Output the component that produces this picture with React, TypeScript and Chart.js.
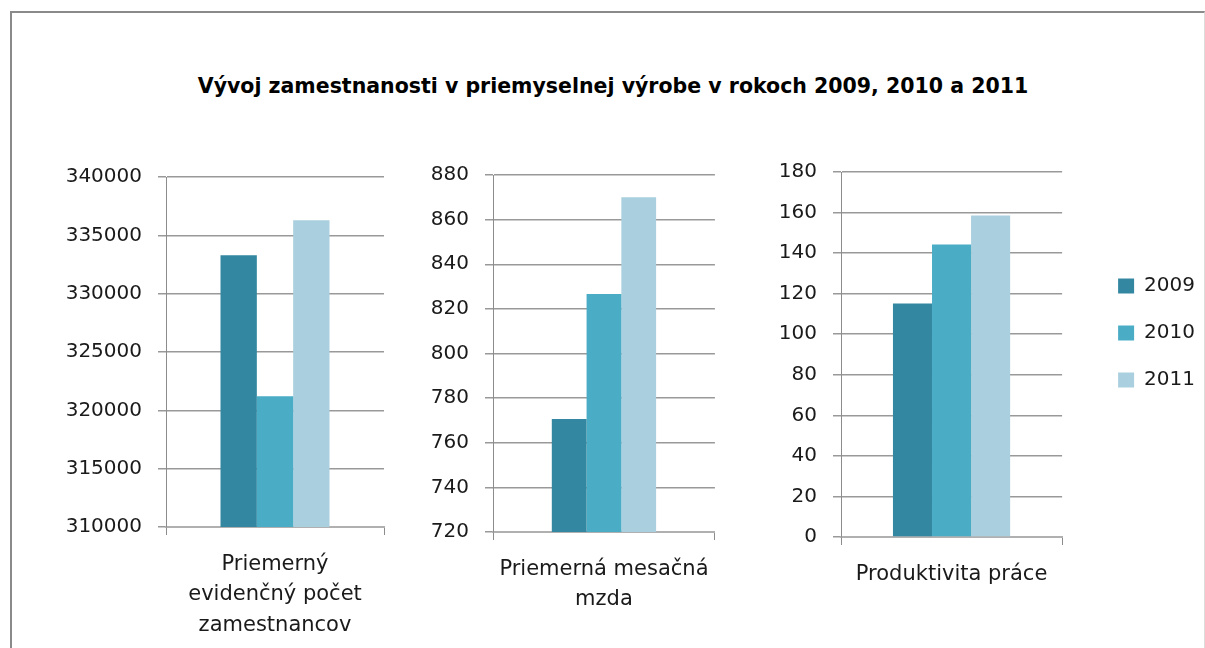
import React, { useEffect, useRef } from 'react';
import { Chart, registerables } from 'chart.js';

Chart.register(...registerables);

// ---------- data ----------
const TITLE = 'Vývoj zamestnanosti v priemyselnej výrobe v rokoch 2009, 2010 a 2011';
const SERIES = ['2009', '2010', '2011'];
const SERIES_COLORS = ['#3387A0', '#4BACC6', '#AACFDE'];

const CAT_EMPLOYEES = ['Priemerný', 'evidenčný počet', 'zamestnancov'];
const VALUES_EMPLOYEES = [333300, 321200, 336300];
const AXIS_EMPLOYEES = { min: 310000, max: 340000, step: 5000 };

const CAT_WAGE = ['Priemerná mesačná', 'mzda'];
const VALUES_WAGE = [770.6, 826.7, 870.0];
const AXIS_WAGE = { min: 720, max: 880, step: 20 };

const CAT_PRODUCTIVITY = ['Produktivita práce'];
const VALUES_PRODUCTIVITY = [115.2, 144.3, 158.6];
const AXIS_PRODUCTIVITY = { min: 0, max: 180, step: 20 };

// ---------- layout / style ----------
const FONT = '"DejaVu Sans", sans-serif';
const TEXT = '#1a1a1a';
const CANVAS_TOP = 140;
const CANVAS_H = 500;

type Area = { left: number; right: number; top: number; bottom: number };
type PanelProps = {
  cat: string[];
  values: number[];
  axis: { min: number; max: number; step: number };
  boxLeft: number;
  boxWidth: number;
  area: Area;
  catPct: number;
  legend?: boolean;
};

function Panel({ cat, values, axis, boxLeft, boxWidth, area, catPct, legend }: PanelProps) {
  const ref = useRef<HTMLCanvasElement | null>(null);
  useEffect(() => {
    if (!ref.current) return;
    const scales: any = {
      x: {
        offset: true,
        grid: {
          display: true,
          drawOnChartArea: false,
          drawTicks: true,
          tickLength: 8,
          color: '#8c8c8c',
          lineWidth: 1,
          offset: true,
        },
        border: { display: true, color: '#b0b0b0', width: 2 },
        ticks: {
          font: { family: FONT, size: 21, lineHeight: 1.45 },
          color: TEXT,
          padding: 14,
          maxRotation: 0,
          minRotation: 0,
          autoSkip: false,
        },
        afterFit: (s: any) => {
          s.height = CANVAS_TOP + CANVAS_H - area.bottom;
        },
      },
      y: {
        min: axis.min,
        max: axis.max,
        ticks: {
          stepSize: axis.step,
          font: { family: FONT, size: 20 },
          color: TEXT,
          padding: 16,
          callback: (v: any) => String(v),
        },
        grid: { color: '#999999', lineWidth: 1.5, tickLength: 8 },
        border: { display: true, color: '#8c8c8c', width: 1 },
        afterFit: (s: any) => {
          s.width = area.left - boxLeft;
        },
      },
    };
    if (legend) {
      scales.spacer = {
        type: 'linear',
        position: 'right',
        display: true,
        grid: { display: false },
        border: { display: false },
        ticks: { display: false },
        afterFit: (s: any) => {
          s.width = 29;
        },
      };
    }
    const chart = new Chart(ref.current, {
      type: 'bar',
      data: {
        labels: [cat],
        datasets: SERIES.map((s, i) => ({
          label: s,
          data: [values[i]],
          backgroundColor: SERIES_COLORS[i],
          borderWidth: 0,
          barPercentage: 1,
          categoryPercentage: catPct,
        })),
      },
      options: {
        responsive: false,
        animation: false,
        layout: {
          padding: {
            left: 0,
            right: legend ? 0 : boxLeft + boxWidth - area.right,
            top: area.top - CANVAS_TOP,
            bottom: 0,
          },
        },
        plugins: {
          tooltip: { enabled: false },
          legend: legend
            ? {
                display: true,
                position: 'right',
                align: 'start',
                fullSize: false,
                maxWidth: 200,
                title: {
                  display: true,
                  text: '',
                  padding: 0,
                  font: { family: FONT, size: 10, lineHeight: 7.7 },
                },
                labels: {
                  boxWidth: 16,
                  boxHeight: 15,
                  padding: 27,
                  font: { family: FONT, size: 20 },
                  color: TEXT,
                },
              }
            : { display: false },
        },
        scales,
      } as any,
    });
    return () => chart.destroy();
  }, []);
  return (
    <canvas
      ref={ref}
      width={boxWidth}
      height={CANVAS_H}
      style={{
        position: 'absolute',
        left: boxLeft,
        top: CANVAS_TOP,
        width: boxWidth,
        height: CANVAS_H,
      }}
    />
  );
}

export default function App() {
  return (
    <div
      style={{
        position: 'absolute',
        left: 0,
        top: 0,
        width: 1205,
        height: 648,
        overflow: 'hidden',
        background: '#fff',
      }}
    >
      <div
        style={{
          position: 'absolute',
          left: 10,
          top: 11,
          width: 1195,
          height: 700,
          boxSizing: 'border-box',
          borderLeft: '2px solid #8a8a8a',
          borderTop: '2px solid #8a8a8a',
          borderRight: '1px solid #dcdcdc',
        }}
      />
      <div
        style={{
          position: 'absolute',
          left: 0,
          top: 73,
          width: 1226,
          textAlign: 'center',
          fontFamily: FONT,
          fontWeight: 'bold',
          fontSize: '20.5px',
          lineHeight: '26px',
          color: '#000',
          whiteSpace: 'nowrap',
        }}
      >
        {TITLE}
      </div>
      <Panel
        cat={CAT_EMPLOYEES}
        values={VALUES_EMPLOYEES}
        axis={AXIS_EMPLOYEES}
        boxLeft={30}
        boxWidth={370}
        area={{ left: 166, right: 384, top: 177, bottom: 527 }}
        catPct={0.5}
      />
      <Panel
        cat={CAT_WAGE}
        values={VALUES_WAGE}
        axis={AXIS_WAGE}
        boxLeft={400}
        boxWidth={330}
        area={{ left: 493, right: 715, top: 175, bottom: 532 }}
        catPct={0.47}
      />
      <Panel
        cat={CAT_PRODUCTIVITY}
        values={VALUES_PRODUCTIVITY}
        axis={AXIS_PRODUCTIVITY}
        boxLeft={730}
        boxWidth={475}
        area={{ left: 841, right: 1062, top: 172, bottom: 537 }}
        catPct={0.53}
        legend
      />
    </div>
  );
}
